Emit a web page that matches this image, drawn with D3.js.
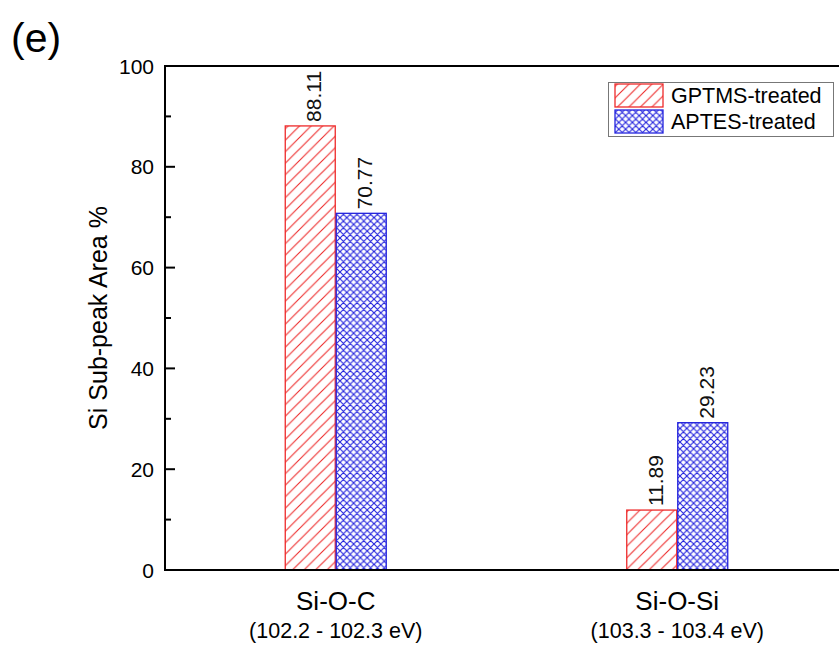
<!DOCTYPE html>
<html><head><meta charset="utf-8">
<script src="https://cdn.jsdelivr.net/npm/d3@7"></script>
<style>body{margin:0;background:#fff}svg{display:block;font-family:Arial,"Liberation Sans",sans-serif}</style>
</head><body><svg id="c" width="839" height="647"></svg>
<script>
const categories = ["Si-O-C", "Si-O-Si"];
const subLabels = ["(102.2 - 102.3 eV)", "(103.3 - 103.4 eV)"];
const seriesNames = ["GPTMS-treated", "APTES-treated"];
const gptms = [88.11, 11.89];
const aptes = [70.77, 29.23];
const yTicks = [0, 20, 40, 60, 80, 100];
const yMinor = [10, 30, 50, 70, 90];

const svg = d3.select("#c");
const L = 165, T = 66, B = 570, R = 848;

const defs = svg.append("defs");
const Q = 11.5;
const pr = defs.append("pattern").attr("id","hatchR").attr("patternUnits","userSpaceOnUse")
  .attr("width",Q).attr("height",Q);
pr.append("rect").attr("width",Q).attr("height",Q).attr("fill","#fff");
pr.append("path").attr("d",`M-1,1 l2,-2 M0,${Q} l${Q},-${Q} M${Q-1},${Q+1} l2,-2`).attr("stroke","#ee2a2a").attr("stroke-width",1.1);
const P = 6.8;
const pb = defs.append("pattern").attr("id","hatchB").attr("patternUnits","userSpaceOnUse")
  .attr("width",P).attr("height",P);
pb.append("rect").attr("width",P).attr("height",P).attr("fill","#fff");
pb.append("path").attr("d",`M-1,1 l2,-2 M0,${P} l${P},-${P} M${P-1},${P+1} l2,-2 M-1,${P-1} l2,2 M0,0 l${P},${P} M${P-1},-1 l2,2`).attr("stroke","#2222dd").attr("stroke-width",1.1);

const y = d3.scaleLinear().domain([0,100]).range([B,T]);
const x = d3.scalePoint().domain(categories).range([L,R]).padding(0.5);
const x1 = d3.scaleBand().domain(seriesNames).range([-51,51]);

const series = [
  {name: seriesNames[0], vals: gptms, fill: "url(#hatchR)", stroke: "#ee2a2a"},
  {name: seriesNames[1], vals: aptes, fill: "url(#hatchB)", stroke: "#2222dd"}
];

series.forEach(s => {
  const g = svg.append("g");
  g.selectAll("rect").data(categories).join("rect")
    .attr("x", (c) => x(c) + x1(s.name) + 0.5)
    .attr("y", (c,i) => y(s.vals[i]))
    .attr("width", x1.bandwidth() - 1)
    .attr("height", (c,i) => y(0) - y(s.vals[i]))
    .attr("fill", s.fill).attr("stroke", s.stroke).attr("stroke-width", 1.3);
  g.selectAll("text").data(categories).join("text")
    .attr("transform", (c,i) => `translate(${x(c) + x1(s.name) + x1.bandwidth()/2 + 11},${y(s.vals[i]) - 4}) rotate(-90)`)
    .attr("font-size", 21).attr("fill", "#111")
    .text((c,i) => s.vals[i].toFixed(2));
});

// axes lines
svg.append("line").attr("x1",L).attr("x2",R).attr("y1",B).attr("y2",B).attr("stroke","#000").attr("stroke-width",2);
svg.append("line").attr("x1",L).attr("x2",R).attr("y1",T).attr("y2",T).attr("stroke","#000").attr("stroke-width",2);
svg.append("line").attr("x1",L).attr("x2",L).attr("y1",T-1).attr("y2",B+1).attr("stroke","#000").attr("stroke-width",2);

svg.selectAll(".maj").data(yTicks).join("line")
  .attr("x1",L).attr("x2",L+10).attr("y1",d=>y(d)).attr("y2",d=>y(d)).attr("stroke","#000").attr("stroke-width",2);
svg.selectAll(".mn").data(yMinor).join("line").attr("class","mn")
  .attr("x1",L).attr("x2",L+6).attr("y1",d=>y(d)).attr("y2",d=>y(d)).attr("stroke","#000").attr("stroke-width",2);
svg.selectAll(".yl").data(yTicks).join("text").attr("class","yl")
  .attr("x",L-11).attr("y",d=>y(d)+7.5).attr("text-anchor","end").attr("font-size",21).text(d=>d);

svg.append("text").attr("transform",`translate(107,${(T+B)/2}) rotate(-90)`)
  .attr("text-anchor","middle").attr("font-size",25).text("Si Sub-peak Area %");

svg.selectAll(".cl").data(categories).join("text").attr("class","cl")
  .attr("x",d=>x(d)).attr("y",610).attr("text-anchor","middle").attr("font-size",26).text(d=>d);
svg.selectAll(".sl").data(categories).join("text").attr("class","sl")
  .attr("x",d=>x(d)).attr("y",638).attr("text-anchor","middle").attr("font-size",21.5).text((d,i)=>subLabels[i]);

svg.append("text").attr("x",11).attr("y",52).attr("font-size",41).text("(e)");

// legend
const lg = svg.append("g");
lg.append("rect").attr("x",608.5).attr("y",82.5).attr("width",225).attr("height",54)
  .attr("fill","#fff").attr("stroke","#777").attr("stroke-width",1);
series.forEach((s,i) => {
  lg.append("rect").attr("x",615).attr("y",84 + i*26).attr("width",48).attr("height",23)
    .attr("fill",s.fill).attr("stroke",s.stroke).attr("stroke-width",1.3);
  lg.append("text").attr("x",671).attr("y",103 + i*26).attr("font-size",21.5).text(s.name);
});
</script></body></html>
